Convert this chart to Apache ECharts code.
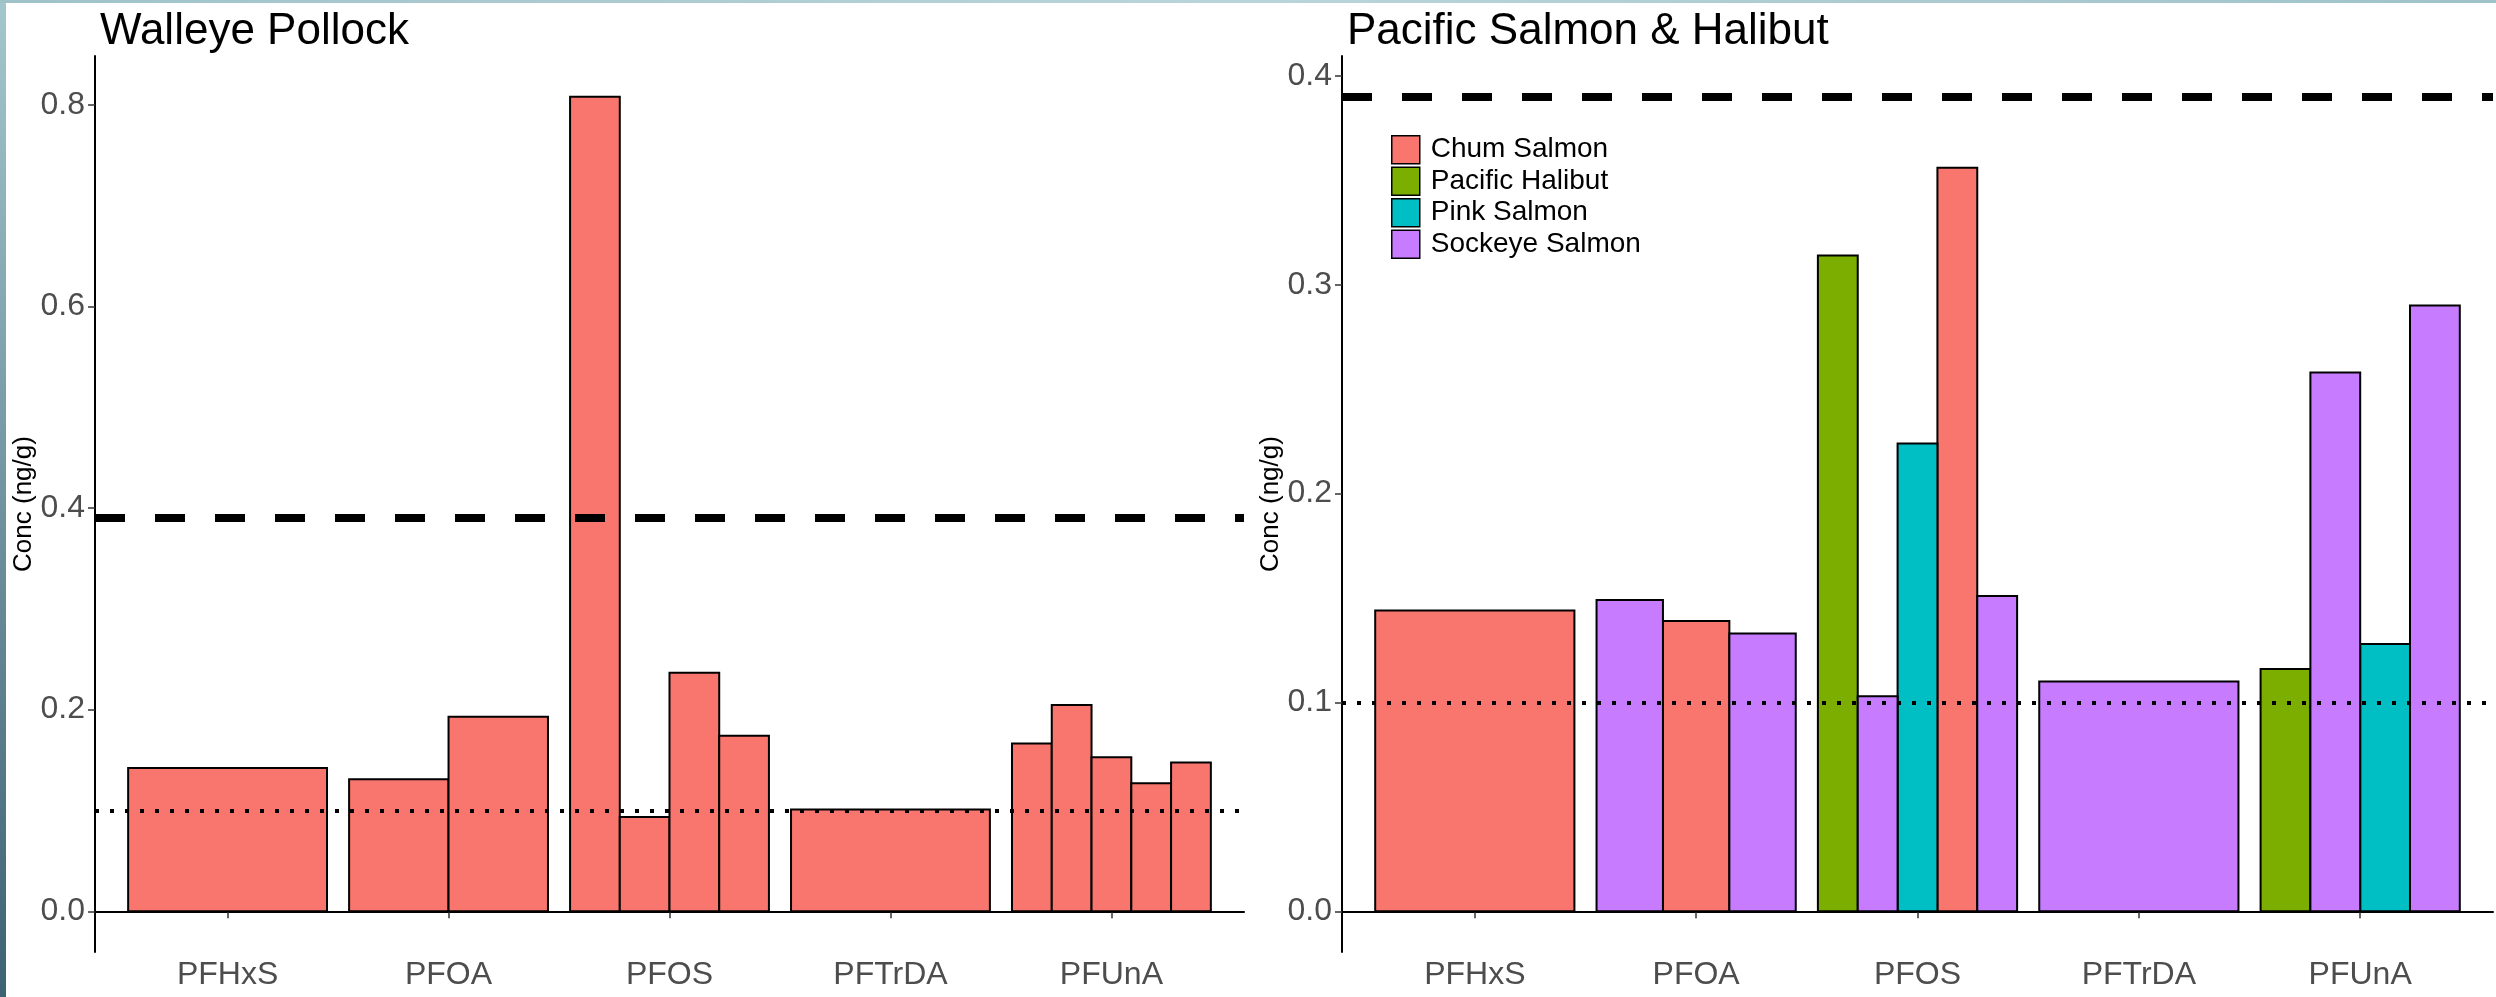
<!DOCTYPE html>
<html><head><meta charset="utf-8">
<script src="https://cdn.jsdelivr.net/npm/echarts@6/dist/echarts.min.js"></script>
<style>
html,body{margin:0;padding:0;background:#fff;}
#c{width:2496px;height:997px;position:absolute;left:0;top:0;}
.edgeL{position:absolute;left:0;top:0;width:6px;height:997px;background:linear-gradient(#a4c6cd,#3e6173);}
.edgeT{position:absolute;left:0;top:0;width:2496px;height:3px;background:linear-gradient(to right,#9fc2c9,#b9d5da,#9fc2c9);}
</style>
</head><body><div id="c"></div><div class="edgeL"></div><div class="edgeT"></div>
<script>
// ---- data ----
const categories = ['PFHxS', 'PFOA', 'PFOS', 'PFTrDA', 'PFUnA'];
const yTicksPollock = [0, 0.2, 0.4, 0.6, 0.8];
const yTicksSalmon = [0, 0.1, 0.2, 0.3, 0.4];
const dashedLevel = 0.39;
const dottedLevel = 0.0975;

// Walleye Pollock: samples per compound
const pollockPFHxS = [0.142];
const pollockPFOA = [0.131, 0.193];
const pollockPFOS = [0.808, 0.0935, 0.2366, 0.174];
const pollockPFTrDA = [0.101];
const pollockPFUnA = [0.1665, 0.2045, 0.1527, 0.127, 0.1477];

// Pacific Salmon & Halibut: species and value of each sample per compound
const species = ['Chum Salmon', 'Pacific Halibut', 'Pink Salmon', 'Sockeye Salmon'];
const speciesColors = ['#F8766D', '#7CAE00', '#00BFC4', '#C77CFF'];
const salmonPFHxSSpecies = ['Chum Salmon'];
const salmonPFHxSValues = [0.144];
const salmonPFOASpecies = ['Sockeye Salmon', 'Chum Salmon', 'Sockeye Salmon'];
const salmonPFOAValues = [0.149, 0.139, 0.133];
const salmonPFOSSpecies = ['Pacific Halibut', 'Sockeye Salmon', 'Pink Salmon', 'Chum Salmon', 'Sockeye Salmon'];
const salmonPFOSValues = [0.314, 0.103, 0.224, 0.356, 0.151];
const salmonPFTrDASpecies = ['Sockeye Salmon'];
const salmonPFTrDAValues = [0.110];
const salmonPFUnASpecies = ['Pacific Halibut', 'Sockeye Salmon', 'Pink Salmon', 'Sockeye Salmon'];
const salmonPFUnAValues = [0.116, 0.258, 0.128, 0.290];

// ---- build ----
const pollockGroups = [pollockPFHxS, pollockPFOA, pollockPFOS, pollockPFTrDA, pollockPFUnA];
const salmonSpeciesGroups = [salmonPFHxSSpecies, salmonPFOASpecies, salmonPFOSSpecies, salmonPFTrDASpecies, salmonPFUnASpecies];
const salmonValueGroups = [salmonPFHxSValues, salmonPFOAValues, salmonPFOSValues, salmonPFTrDAValues, salmonPFUnAValues];

const BAR_W = 0.9;
function dodge(ci, n, j) {
  const w = BAR_W / n;
  const x0 = (ci + 1) - BAR_W / 2 + j * w;
  return [x0, x0 + w];
}

const pollockData = [];
pollockGroups.forEach((g, ci) => g.forEach((v, j) => {
  const [a, b] = dodge(ci, g.length, j);
  pollockData.push([a, b, v]);
}));

const salmonData = species.map(() => []);
salmonValueGroups.forEach((g, ci) => g.forEach((v, j) => {
  const [a, b] = dodge(ci, g.length, j);
  salmonData[species.indexOf(salmonSpeciesGroups[ci][j])].push([a, b, v]);
}));

function renderBar(color) {
  return function (params, api) {
    const p0 = api.coord([api.value(0), api.value(2)]);
    const p1 = api.coord([api.value(1), 0]);
    return {
      type: 'rect',
      shape: { x: p0[0], y: p0[1], width: p1[0] - p0[0], height: p1[1] - p0[1] },
      style: { fill: color, stroke: '#000000', lineWidth: 2 }
    };
  };
}

const refLines = {
  symbol: 'none', silent: true, z: 10, animation: false,
  label: { show: false }, emphasis: { disabled: true },
  data: [
    { yAxis: dashedLevel, lineStyle: { color: '#000', type: [30, 30], width: 8 } },
    { yAxis: dottedLevel, lineStyle: { color: '#000', type: [4, 11], width: 4 } }
  ]
};

const FONT = 'Liberation Sans, Arial, sans-serif';
const pollMax = Math.max(dashedLevel, ...pollockGroups.flat());
const salMax = Math.max(dashedLevel, ...salmonValueGroups.flat());

function xAxis(gi) {
  return {
    type: 'value', gridIndex: gi, min: 0.4, max: 5.6,
    splitLine: { show: false },
    axisLine: { show: true, lineStyle: { color: '#000', width: 2 } },
    axisTick: { show: true, customValues: [1, 2, 3, 4, 5], length: 7, lineStyle: { color: '#333', width: 1.5 } },
    axisLabel: { customValues: [1, 2, 3, 4, 5], formatter: v => categories[Math.round(v) - 1], color: '#4D4D4D', fontSize: 32, fontFamily: FONT, margin: 7 }
  };
}
function yAxis(gi, ymax, ticks) {
  const pad = ymax * 0.05;
  return {
    type: 'value', gridIndex: gi, min: -pad, max: ymax + pad,
    name: 'Conc (ng/g)', nameLocation: 'middle', nameGap: 58, nameRotate: 90,
    nameTextStyle: { color: '#000', fontSize: 26, fontFamily: FONT },
    splitLine: { show: false },
    axisLine: { show: true, lineStyle: { color: '#000', width: 2 } },
    axisTick: { show: true, customValues: ticks, length: 7, lineStyle: { color: '#333', width: 1.5 } },
    axisLabel: { customValues: ticks, formatter: v => v.toFixed(1), color: '#4D4D4D', fontSize: 32, fontFamily: FONT, margin: 10 }
  };
}

const series = [{
  name: 'Walleye Pollock', type: 'custom', xAxisIndex: 0, yAxisIndex: 0, z: 2,
  renderItem: renderBar(speciesColors[0]), encode: { x: [0, 1], y: 2 },
  data: pollockData, markLine: refLines
}];
species.forEach((s, i) => {
  const ser = {
    name: s, type: 'custom', xAxisIndex: 1, yAxisIndex: 1, z: 2,
    renderItem: renderBar(speciesColors[i]), encode: { x: [0, 1], y: 2 },
    itemStyle: { color: speciesColors[i] },
    data: salmonData[i]
  };
  if (i === 0) ser.markLine = refLines;
  series.push(ser);
});

const chart = echarts.init(document.getElementById('c'), null, { renderer: 'canvas' });
chart.setOption({
  animation: false,
  backgroundColor: '#ffffff',
  title: [
    { text: 'Walleye Pollock', left: 95, top: 5, textStyle: { fontSize: 44, fontWeight: 'normal', color: '#000', fontFamily: FONT } },
    { text: 'Pacific Salmon & Halibut', left: 1342, top: 5, textStyle: { fontSize: 44, fontWeight: 'normal', color: '#000', fontFamily: FONT } }
  ],
  legend: {
    data: species.map((s, i) => ({ name: s, icon: 'rect', itemStyle: { color: speciesColors[i], borderColor: '#000', borderWidth: 1.5 } })),
    orient: 'vertical', left: 1391, top: 135, padding: 0, itemWidth: 28, itemHeight: 28, itemGap: 2,
    textStyle: { fontSize: 28, color: '#000', fontFamily: FONT, padding: [0, 0, 0, 6] },
    selectedMode: false
  },
  grid: [
    { left: 95, top: 56, width: 1149, height: 896 },
    { left: 1342, top: 56, width: 1151, height: 896 }
  ],
  xAxis: [xAxis(0), xAxis(1)],
  yAxis: [yAxis(0, pollMax, yTicksPollock), yAxis(1, salMax, yTicksSalmon)],
  series: series
});
</script></body></html>
